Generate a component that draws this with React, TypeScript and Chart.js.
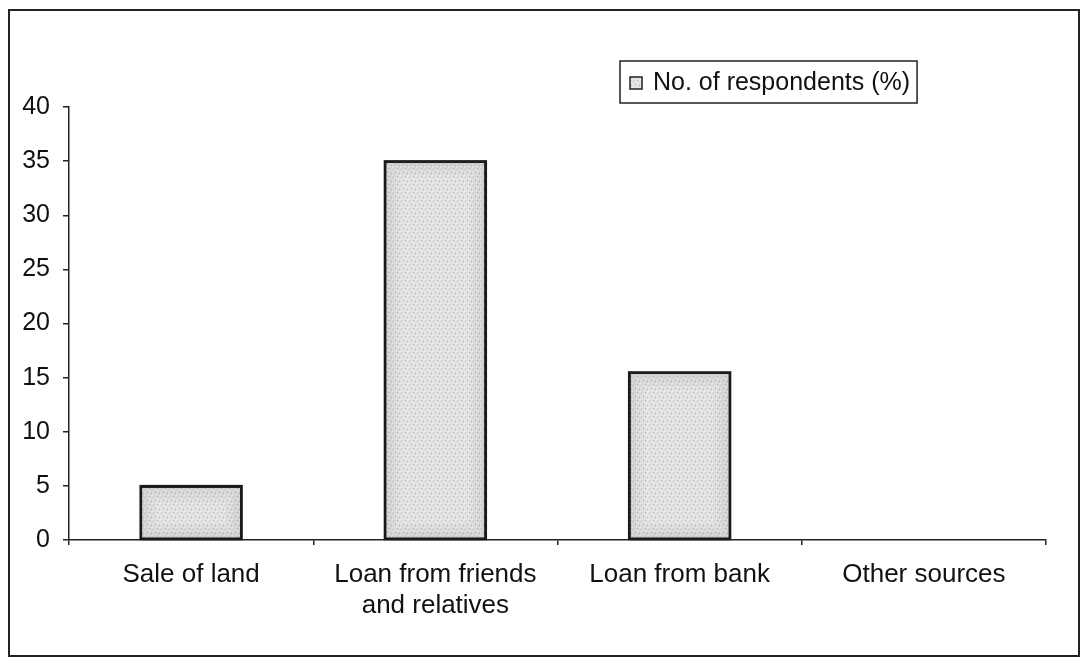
import React, { useEffect, useRef } from "react";
import { Chart, registerables } from "chart.js";

Chart.register(...registerables);

const categories: (string | string[])[] = [
  "Sale of land",
  ["Loan from friends", "and relatives"],
  "Loan from bank",
  "Other sources",
];
const seriesLabel = "No. of respondents (%)";
const seriesValues = [5, 35, 15.5, 0];
const yMin = 0;
const yMax = 40;
const yStep = 5;

const FONT = "'Liberation Sans', Arial, sans-serif";

function makePattern(): CanvasPattern | string {
  const c = document.createElement("canvas");
  c.width = 8;
  c.height = 8;
  const g = c.getContext("2d");
  if (!g) return "#dcdcdc";
  g.fillStyle = "#e2e2e2";
  g.fillRect(0, 0, 8, 8);
  g.fillStyle = "#b0b0b0";
  const dots = [
    [1, 1], [5, 2], [3, 5], [7, 6],
  ];
  dots.forEach(([x, y]) => g.fillRect(x, y, 1, 1));
  g.fillStyle = "#f4f4f4";
  [[2, 3], [6, 4], [4, 7], [0, 6], [6, 7]].forEach(([x, y]) => g.fillRect(x, y, 1, 1));
  const p = g.createPattern(c, "repeat");
  return p || "#dcdcdc";
}

const barShade = {
  id: "barShade",
  afterDatasetsDraw(chart: any) {
    const ctx = chart.ctx as CanvasRenderingContext2D;
    const meta = chart.getDatasetMeta(0);
    ctx.save();
    meta.data.forEach((bar: any) => {
      const { x, y, base, width } = bar.getProps(["x", "y", "base", "width"], true);
      const l = x - width / 2;
      const r = x + width / 2;
      const t = Math.min(y, base);
      const b = Math.max(y, base);
      if (b - t < 2) return;
      for (let i = 1; i <= 8; i++) {
        const a = 0.12 * (1 - (i - 1) / 8);
        ctx.strokeStyle = `rgba(90,90,90,${a})`;
        ctx.lineWidth = 2;
        ctx.strokeRect(l + i * 2, t + i * 2, Math.max(0, r - l - i * 4), Math.max(0, b - t - i * 4));
      }
      ctx.strokeStyle = "#1a1a1a";
      ctx.lineWidth = 2;
      ctx.strokeRect(l, t, r - l, b - t);
    });
    ctx.restore();
  },
};

const boxedLegend = {
  id: "boxedLegend",
  afterDraw(chart: any) {
    const ctx = chart.ctx as CanvasRenderingContext2D;
    const ds = chart.data.datasets[0];
    ctx.save();
    ctx.font = `25px ${FONT}`;
    const label = ds.label as string;
    const tw = ctx.measureText(label).width;
    const bx = 610;
    const by = 50;
    const bh = 42;
    const textX = bx + 33;
    const bw = textX - bx + tw + 7;
    ctx.fillStyle = "#ffffff";
    ctx.fillRect(bx, by, bw, bh);
    ctx.strokeStyle = "#222";
    ctx.lineWidth = 1.5;
    ctx.strokeRect(bx, by, bw, bh);
    ctx.fillStyle = ds.backgroundColor;
    ctx.fillRect(bx + 10, by + 16, 12, 12);
    ctx.strokeStyle = "#222";
    ctx.lineWidth = 1.5;
    ctx.strokeRect(bx + 10, by + 16, 12, 12);
    ctx.fillStyle = "#111";
    ctx.textBaseline = "middle";
    ctx.fillText(label, textX, by + bh / 2 + 1);
    ctx.restore();
  },
};

export default function App() {
  const ref = useRef<HTMLCanvasElement | null>(null);

  useEffect(() => {
    if (!ref.current) return;
    const fill = makePattern();
    const chart = new Chart(ref.current, {
      type: "bar",
      data: {
        labels: categories,
        datasets: [
          {
            label: seriesLabel,
            data: seriesValues,
            backgroundColor: fill as any,
            borderColor: "#1a1a1a",
            borderWidth: 2,
            borderSkipped: false,
            barPercentage: 0.415,
            categoryPercentage: 1,
          },
        ],
      },
      options: {
        animation: false,
        responsive: false,
        maintainAspectRatio: false,
        layout: { padding: { left: 0, right: 28, top: 96, bottom: 0 } },
        plugins: {
          legend: { display: false },
          tooltip: { enabled: false },
        },
        scales: {
          x: {
            offset: true,
            grid: {
              offset: true,
              drawOnChartArea: false,
              drawTicks: true,
              tickLength: 5,
              color: "#222",
              lineWidth: 1.5,
            },
            border: { display: true, color: "#222", width: 1.5 },
            ticks: {
              color: "#111",
              font: { family: FONT, size: 26, lineHeight: 1.2 },
              padding: 14,
              maxRotation: 0,
              autoSkip: false,
            },
            afterFit: (s: any) => {
              s.height = 115;
            },
          },
          y: {
            min: yMin,
            max: yMax,
            grid: {
              drawOnChartArea: false,
              drawTicks: true,
              tickLength: 6,
              color: "#222",
              lineWidth: 1.5,
            },
            border: { display: true, color: "#222", width: 1.5 },
            ticks: {
              stepSize: yStep,
              color: "#111",
              font: { family: FONT, size: 25 },
              padding: 13,
            },
            afterFit: (s: any) => {
              s.width = 59;
            },
          },
        },
      },
      plugins: [barShade, boxedLegend],
    });
    return () => chart.destroy();
  }, []);

  return (
    <div
      style={{
        boxSizing: "border-box",
        width: 1072,
        height: 648,
        marginTop: 1,
        border: "2px solid #222",
        background: "#fff",
        overflow: "hidden",
      }}
    >
      <canvas ref={ref} width={1064} height={644} style={{ display: "block" }} />
    </div>
  );
}
